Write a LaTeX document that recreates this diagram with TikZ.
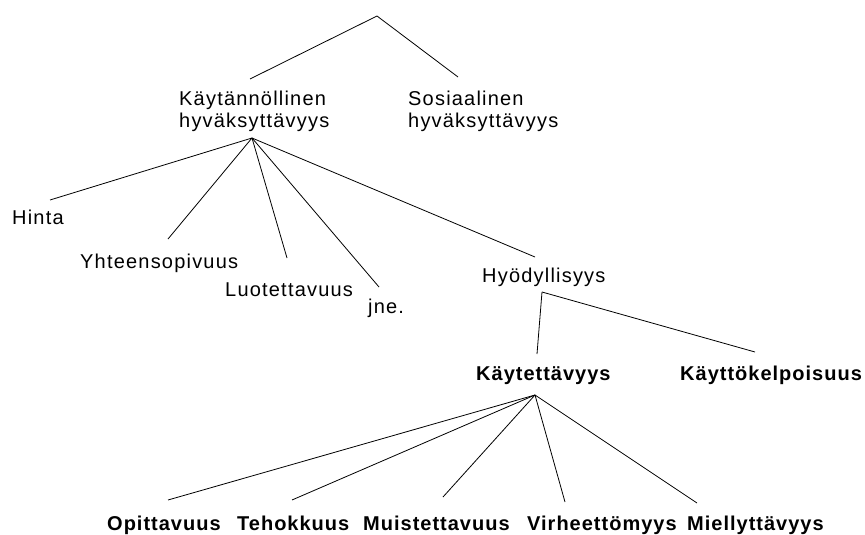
\documentclass[tikz,border=0pt]{standalone}
\usepackage{fontspec}
\setmainfont{Liberation Sans}
\newfontfamily\reglbl[LetterSpace=6]{Liberation Sans}
\newfontfamily\boldlbl[LetterSpace=5]{Liberation Sans Bold}
\begin{document}
\begin{tikzpicture}[x=1pt,y=-1pt,
  lbl/.style={anchor=base west,inner sep=0pt,font=\fontsize{20}{22}\selectfont\reglbl,align=left},
  blbl/.style={lbl,font=\fontsize{20}{22}\selectfont\boldlbl},
  link/.style={draw=black,line width=0.8pt}]
\useasboundingbox[fill=white] (0,0) rectangle (865,535);
% text nodes
\node[lbl] (kay) at (179,128) {Käytännöllinen\\hyväksyttävyys};
\node[lbl] (sos) at (408,128) {Sosiaalinen\\hyväksyttävyys};
\node[lbl] (hin) at (12,224) {Hinta};
\node[lbl] (yht) at (80,268) {Yhteensopivuus};
\node[lbl] (luo) at (225,296) {Luotettavuus};
\node[lbl] (jne) at (368,313) {jne.};
\node[lbl] (hyo) at (482,282) {Hyödyllisyys};
\node[blbl] (kte) at (476,380) {Käytettävyys};
\node[blbl] (kke) at (680,380) {Käyttökelpoisuus};
\node[blbl] (opi) at (107,530) {Opittavuus};
\node[blbl] (teh) at (237,530) {Tehokkuus};
\node[blbl] (mui) at (363,530) {Muistettavuus};
\node[blbl] (vir) at (527,530) {Virheettömyys};
\node[blbl] (mie) at (687,530) {Miellyttävyys};
% connector points
\coordinate (root) at (377,16);
\coordinate (kayT) at (250,79);
\coordinate (sosT) at (458,77);
\coordinate (kayB) at (252,138);
\coordinate (hinT) at (50,200);
\coordinate (yhtT) at (168,239);
\coordinate (luoT) at (287,258);
\coordinate (jneT) at (379,287);
\coordinate (hyoT) at (535,257);
\coordinate (hyoB) at (542,292);
\coordinate (kteT) at (537,354);
\coordinate (kkeT) at (755,352);
\coordinate (kteB) at (535,395);
\coordinate (opiT) at (168,500);
\coordinate (tehT) at (292,500);
\coordinate (muiT) at (443,497);
\coordinate (virT) at (565,502);
\coordinate (mieT) at (697,503);
% connectors
\draw[link] (kayT) -- (root) -- (sosT);
\foreach \e in {hinT,yhtT,luoT,jneT,hyoT} \draw[link] (kayB) -- (\e);
\draw[link] (hyoB) -- (kteT);
\draw[link] (hyoB) -- (kkeT);
\foreach \e in {opiT,tehT,muiT,virT,mieT} \draw[link] (kteB) -- (\e);
\end{tikzpicture}
\end{document}
